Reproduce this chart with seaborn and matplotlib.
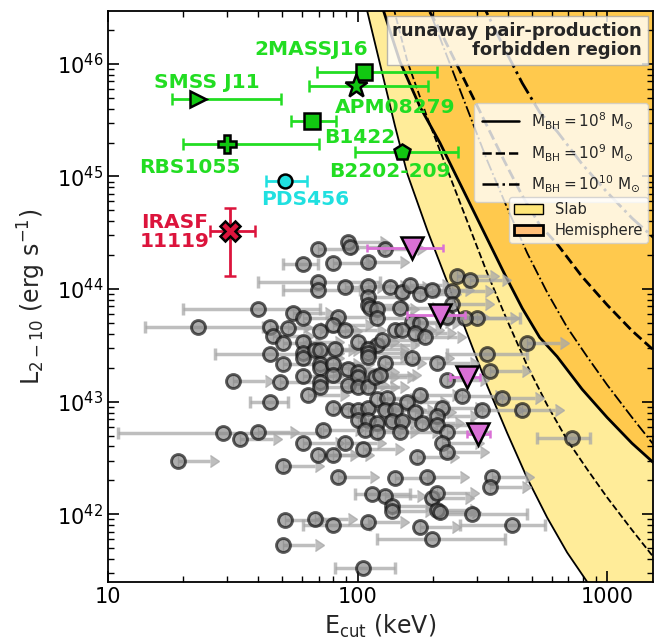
import numpy as np
import pandas as pd
import matplotlib
matplotlib.use("Agg")
import matplotlib.pyplot as plt
import seaborn as sns
from matplotlib.lines import Line2D
from matplotlib.patches import Patch
from matplotlib.ticker import NullFormatter

# pair-line boundaries for M_BH = 1e8 Msun, log10 Ecut [keV] vs log10 L [erg/s]
# (1e9 and 1e10 Msun are the same curves moved up by one and two dex)
slab_log_ecut = [2.03, 2.09, 2.15, 2.20, 2.28, 2.36, 2.44, 2.52, 2.60, 2.68,
                 2.76, 2.84, 2.92, 3.00, 3.10, 3.20]
slab_log_lum = [46.55, 46.00, 45.45, 45.02, 44.52, 44.06, 43.60, 43.14, 42.72, 42.32,
                41.97, 41.66, 41.40, 41.15, 40.86, 40.58]
hemi_log_ecut = [2.10, 2.17, 2.25, 2.33, 2.41, 2.47, 2.53, 2.59, 2.66, 2.73,
                 2.80, 2.90, 3.00, 3.10, 3.20]
hemi_log_lum = [46.50, 46.02, 45.62, 45.30, 44.94, 44.67, 44.40, 44.13, 43.83, 43.57,
                43.40, 43.11, 42.86, 42.63, 42.43]
mass_shift = [0, 1, 2]
mass_labels = [r'$\mathrm{M_{BH}=10^{8}\ M_{\odot}}$',
               r'$\mathrm{M_{BH}=10^{9}\ M_{\odot}}$',
               r'$\mathrm{M_{BH}=10^{10}\ M_{\odot}}$']

# sample: sources with only a lower limit on Ecut (log10 values)
lim_log_ecut = [1.96, 1.97, 1.84, 2.11, 1.90, 2.04, 1.95, 2.04, 2.13, 2.18,
                2.21, 2.25, 2.30, 2.38, 2.40, 2.45, 2.04, 2.04, 2.05, 2.08,
                2.17, 2.38, 1.74, 1.78, 1.92, 2.08, 2.22, 2.25, 2.36, 2.48,
                1.65, 1.66, 1.72, 1.70, 1.85, 1.90, 1.95, 2.00, 2.08, 2.10,
                2.15, 2.18, 2.23, 2.27, 1.78, 2.68, 1.78, 1.78, 1.83, 1.85,
                1.91, 2.04, 2.04, 2.04, 1.70, 1.85, 1.85, 1.90, 1.96, 2.11,
                2.22, 2.32, 2.00, 2.00, 1.78, 1.85, 1.85, 1.90, 1.96, 2.00,
                2.04, 2.07, 2.09, 1.69, 1.50, 2.36, 2.53, 1.80, 2.25, 2.20,
                2.42, 2.58, 2.23, 2.34, 2.50, 2.66, 1.90, 1.96, 2.00, 2.04,
                2.08, 2.12, 2.11, 2.15, 2.00, 2.04, 2.08, 2.14, 2.18, 2.26,
                2.32, 2.32, 1.53, 1.60, 1.86, 2.03, 2.08, 2.17, 2.36, 2.34,
                2.36, 1.78, 1.95, 2.02, 1.28, 1.70, 1.84, 1.90, 2.24, 1.92,
                2.15, 2.28, 2.54, 2.53, 2.11, 2.14, 2.14, 2.30, 2.32, 2.32,
                2.33, 1.71, 1.83, 2.04, 2.25, 1.70]
lim_log_lum = [44.42, 44.37, 44.36, 44.36, 44.23, 44.24, 44.02, 44.03, 44.02, 43.97,
               44.04, 43.96, 43.99, 43.98, 44.12, 44.08, 43.93, 43.86, 43.83, 43.82,
               43.83, 43.87, 43.79, 43.74, 43.75, 43.74, 43.71, 43.70, 43.75, 43.74,
               43.66, 43.58, 43.65, 43.52, 43.63, 43.68, 43.64, 43.53, 43.50, 43.55,
               43.64, 43.64, 43.61, 43.57, 43.53, 43.52, 43.43, 43.39, 43.46, 43.46,
               43.47, 43.47, 43.43, 43.40, 43.33, 43.33, 43.30, 43.33, 43.29, 43.34,
               43.39, 43.34, 43.26, 43.22, 43.23, 43.17, 43.13, 43.24, 43.15, 43.13,
               43.13, 43.22, 43.24, 43.17, 43.18, 43.19, 43.27, 43.06, 43.06, 43.00,
               43.05, 43.03, 42.91, 42.94, 42.93, 42.93, 42.94, 42.93, 42.93, 42.94,
               43.02, 43.03, 42.93, 42.93, 42.84, 42.84, 42.81, 42.83, 42.83, 42.81,
               42.87, 42.79, 42.67, 42.73, 42.75, 42.75, 42.73, 42.73, 42.73, 42.63,
               42.55, 42.63, 42.63, 42.58, 42.47, 42.43, 42.53, 42.53, 42.51, 42.33,
               42.32, 42.33, 42.33, 42.24, 42.16, 42.07, 42.03, 42.14, 42.19, 42.04,
               42.02, 41.95, 41.96, 41.93, 41.89, 41.73]

# sample: sources with a measured Ecut and its range (log10 values)
err_log_ecut = [1.78, 1.84, 1.84, 1.60, 2.43, 1.36, 1.65, 2.52, 1.65, 1.46,
                2.86, 2.06, 2.46, 1.90, 2.62, 2.30, 2.02]
err_log_lum = [44.22, 44.06, 43.99, 43.82, 43.74, 43.66, 43.42, 43.42, 43.00, 42.72,
               42.68, 42.18, 42.00, 41.90, 41.90, 41.78, 41.52]
err_log_lo = [1.70, 1.60, 1.70, 1.30, 2.36, 1.15, 1.43, 2.36, 1.57, 1.04,
              2.72, 1.99, 2.33, 1.78, 2.41, 2.08, 1.91]
err_log_hi = [1.84, 2.09, 2.01, 1.85, 2.65, 1.62, 1.89, 2.68, 1.72, 1.85,
              2.93, 2.21, 2.68, 2.05, 2.75, 2.59, 2.15]

# highlighted sources (keV, erg/s)
src_names = ['2MASSJ16', 'SMSS J11', 'APM08279', 'B1422', 'RBS1055',
             'B2202-209', 'PDS456', 'IRASF11119']
src_ecut = [106, 22.9, 98.6, 65.8, 30.0, 151, 51.0, 30.8]
src_ecut_lo = [69, 18.1, 64, 54, 20.0, 98, 43, 25.6]
src_ecut_hi = [209, 49.4, 192, 82, 70.0, 253, 63, 38.8]
src_lum = [8.5e45, 4.9e45, 6.3e45, 3.1e45, 1.95e45, 1.65e45, 9.1e44, 3.3e44]
irasf_lum_lo = 1.3e44
irasf_lum_hi = 5.3e44

# magenta sources
tri_ecut = [165, 214, 275, 304]
tri_ecut_lo = [109, 158, 235, 275]
tri_ecut_hi = [220, 270, 310, 340]
tri_lum = [2.3e44, 5.9e43, 1.66e43, 5.2e42]

GREEN = '#22dd22'
src_style = {
    '2MASSJ16': dict(marker='s', ms=11, mfc='#11c811', color=GREEN),
    'SMSS J11': dict(marker='>', ms=12, mfc='#11c811', color=GREEN),
    'APM08279': dict(marker='*', ms=17, mfc='#11c811', color=GREEN),
    'B1422': dict(marker='s', ms=11, mfc='#11c811', color=GREEN),
    'RBS1055': dict(marker='P', ms=13, mfc='#11c811', color=GREEN),
    'B2202-209': dict(marker='p', ms=12, mfc='#11c811', color=GREEN),
    'PDS456': dict(marker='o', ms=10, mfc='#20e0e0', color='#20e0e0'),
    'IRASF11119': dict(marker='X', ms=15, mfc='#dc143c', color='#dc143c'),
}

ARROW_DEX = 0.13

sns.set_style('ticks')
plt.rcParams['font.family'] = ['DejaVu Sans']
plt.rcParams['mathtext.fontset'] = 'dejavusans'

fig = plt.figure(figsize=(6.54, 6.39), dpi=100)
ax = fig.add_axes([108 / 654, 1 - 582 / 639, 545 / 654, 571 / 639])
ax.set_xscale('log')
ax.set_yscale('log')

# forbidden regions
slab_e = 10 ** np.array(slab_log_ecut)
hemi_e = 10 ** np.array(hemi_log_ecut)
ax.fill_betweenx(10 ** np.array(slab_log_lum), slab_e, 1e5, color='#ffec99', lw=0, zorder=0)
ax.fill_betweenx(10 ** np.array(hemi_log_lum), hemi_e, 1e5, color='#ffc94d', lw=0, zorder=0.5)
styles = ['-', '--', '-.']
for shift, ls in zip(mass_shift, styles):
    ax.plot(slab_e, 10 ** (np.array(slab_log_lum) + shift), color='k', ls=ls,
            lw=1.3, zorder=1)
    ax.plot(hemi_e, 10 ** (np.array(hemi_log_lum) + shift), color='k', ls=ls,
            lw=2.0, zorder=1)

# sample
bar_color = '#a8a8a8'
lim_e = 10 ** np.array(lim_log_ecut)
lim_l = 10 ** np.array(lim_log_lum)
arrows = ax.errorbar(lim_e, lim_l, xerr=[np.zeros_like(lim_e), lim_e * (10 ** ARROW_DEX - 1)],
                     xlolims=True, fmt='none', ecolor=bar_color, elinewidth=2.5, capsize=4.5,
                     alpha=0.75, zorder=2)
for cap in arrows.lines[1]:
    cap.set_color(bar_color)
    cap.set_markerfacecolor(bar_color)
    cap.set_markeredgecolor(bar_color)
err_e = 10 ** np.array(err_log_ecut)
err_l = 10 ** np.array(err_log_lum)
ax.errorbar(err_e, err_l, xerr=[err_e - 10 ** np.array(err_log_lo),
                                10 ** np.array(err_log_hi) - err_e],
            fmt='none', ecolor=bar_color, elinewidth=2.5, capsize=4, capthick=2.5,
            alpha=0.75, zorder=2)

sample = pd.DataFrame({'ecut': np.concatenate([lim_e, err_e]),
                       'lum': np.concatenate([lim_l, err_l])})
sns.scatterplot(data=sample, x='ecut', y='lum', ax=ax, s=100, color='#8a8a8a',
                edgecolor='#151515', linewidth=2.1, alpha=0.7, zorder=4, legend=False)

# magenta sources
tri_e = np.array(tri_ecut)
ax.errorbar(tri_e, tri_lum, xerr=[tri_e - np.array(tri_ecut_lo), np.array(tri_ecut_hi) - tri_e],
            fmt='v', ms=16, mfc='#da70d6', mec='k', mew=1.8, ecolor='#da70d6',
            elinewidth=2, capsize=3, capthick=2, zorder=6)

# highlighted sources
for name, e, lo, hi, lum in zip(src_names, src_ecut, src_ecut_lo, src_ecut_hi, src_lum):
    st = src_style[name]
    yerr = None
    if name == 'IRASF11119':
        yerr = [[lum - irasf_lum_lo], [irasf_lum_hi - lum]]
    ax.errorbar([e], [lum], xerr=[[e - lo], [hi - e]], yerr=yerr, fmt=st['marker'],
                ms=st['ms'], mfc=st['mfc'], mec='k', mew=1.8, ecolor=st['color'],
                elinewidth=2, capsize=4, capthick=2, zorder=6)

lab = dict(fontsize=14.5, fontweight='bold', ha='center', va='center', zorder=7)
ax.text(65, 1.35e46, '2MASSJ16', color=GREEN, **lab)
ax.text(25, 6.9e45, 'SMSS J11', color=GREEN, **lab)
ax.text(141, 4.1e45, 'APM08279', color=GREEN, **lab)
ax.text(102, 2.2e45, 'B1422', color=GREEN, **lab)
ax.text(21.3, 1.2e45, 'RBS1055', color=GREEN, **lab)
ax.text(135, 1.1e45, 'B2202-209', color=GREEN, **lab)
ax.text(61.6, 6.2e44, 'PDS456', color='#20e0e0', **lab)
ax.text(25.5, 3.2e44, 'IRASF\n11119', color='#dc143c', fontsize=14.5, fontweight='bold',
        ha='right', va='center', multialignment='center', linespacing=1.0, zorder=7)

ax.text(0.980, 0.981, 'runaway pair-production\nforbidden region', transform=ax.transAxes,
        ha='right', va='top', fontsize=13, fontweight='bold', multialignment='right',
        linespacing=1.1, zorder=8,
        bbox=dict(boxstyle='square,pad=0.3', facecolor='white', edgecolor='0.65', alpha=0.8))

# legends
mass_handles = [Line2D([], [], color='k', lw=1.8, ls=ls) for ls in styles]
leg1 = ax.legend(mass_handles, mass_labels, loc='upper right', bbox_to_anchor=(0.991, 0.839),
                 fontsize=11, handlelength=2.4, labelspacing=0.7, borderpad=0.5,
                 framealpha=0.8, borderaxespad=0)
leg1.set_zorder(10)
ax.add_artist(leg1)
patch_handles = [Patch(facecolor='#ffe678', edgecolor='k', lw=1),
                 Patch(facecolor='#ffbe78', edgecolor='k', lw=2)]
leg2 = ax.legend(patch_handles, ['Slab', 'Hemisphere'], loc='upper right',
                 bbox_to_anchor=(0.991, 0.674), fontsize=10.5, handlelength=2.0,
                 labelspacing=0.4, borderpad=0.35, framealpha=0.8, borderaxespad=0)
leg2.set_zorder(10)

ax.set_xlim(10, 1528)
ax.set_ylim(2.5e41, 2.95e46)
ax.set_xticks([10, 100, 1000], labels=['10', '100', '1000'])
ax.xaxis.set_minor_formatter(NullFormatter())
ax.tick_params(which='both', direction='in', top=True, right=True, labelsize=15, colors='k')
ax.tick_params(which='major', length=8, width=1.2)
ax.tick_params(which='minor', length=4, width=1.0)
for sp in ax.spines.values():
    sp.set_linewidth(1.3)
    sp.set_color('k')
ax.set_xlabel(r'E$_{\mathrm{cut}}$ (keV)', fontsize=17, labelpad=4)
ax.set_ylabel(r'L$_{2-10}$ (erg s$^{-1}$)', fontsize=17, labelpad=6)

fig.savefig('out.png', dpi=100)
